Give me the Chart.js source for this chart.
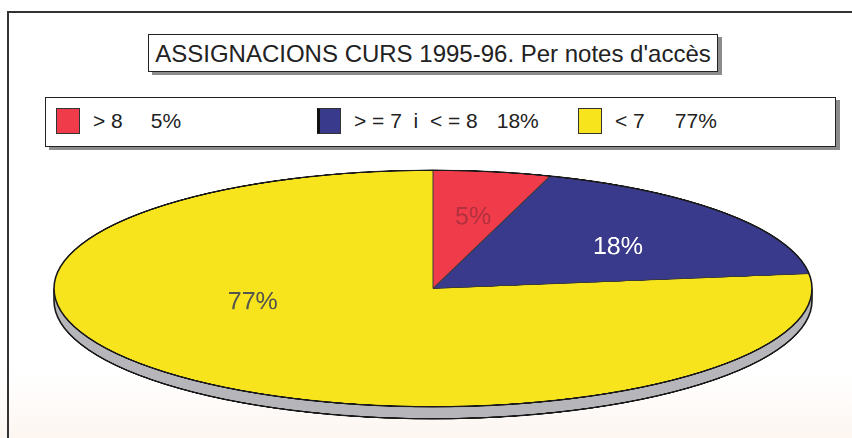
<!DOCTYPE html>
<html lang="ca">
<head>
<meta charset="UTF-8">
<title>Assignacions curs 1995-96</title>
<style>
  body {
    margin: 0;
    width: 852px;
    height: 438px;
    overflow: hidden;
    position: relative;
    background: linear-gradient(#fff 85%, #fdf6f1);
    font-family: "Liberation Sans", Arial, sans-serif;
    color: #222;
  }
  .frame {
    position: absolute;
    left: 7px; top: 11px; right: -10px; bottom: -10px;
    border-left: 2px solid #333;
    border-top: 2px solid #333;
  }
  .title {
    position: absolute;
    left: 148px; top: 34px;
    width: 568px; height: 36px;
    border: 1.5px solid #222;
    box-shadow: 4px 3px 0 #8c8c8c;
    background: #fff;
    font-size: 24px;
    line-height: 37px;
    text-align: center;
    white-space: nowrap;
  }
  .legend {
    position: absolute;
    left: 45px; top: 97px;
    width: 789px; height: 48px;
    border: 1.5px solid #222;
    box-shadow: 4px 3px 0 #8c8c8c;
    background: #fff;
    font-size: 21px;
  }
  .item {
    position: absolute;
    top: 9px;
    height: 27px;
    display: flex;
    align-items: center;
    white-space: pre;
  }
  .swatch {
    width: 24px; height: 26px;
    box-sizing: border-box;
    border: 1px solid #333;
    margin-right: 13px;
  }
  #pieWrap {
    position: absolute;
    left: 50px; top: 168.5px;
    transform-origin: 0 0;
  }
</style>
</head>
<body>
<div class="frame"></div>
<div class="title">ASSIGNACIONS CURS 1995-96. Per notes d'accès</div>
<div class="legend" id="legend"></div>
<div id="pieWrap"><canvas id="pie" width="766" height="822"></canvas></div>

<script src="https://cdn.jsdelivr.net/npm/chart.js@4.4.1/dist/chart.umd.min.js"></script>
<script>
const categories = ['> 8', '> = 7  i  < = 8', '< 7'];
const percentages = [5, 18, 77];
const valueLabels = ['5%', '18%', '77%'];

const sliceColors = ['#f03c4a', '#3a3a8c', '#f8e41c'];
const K = 0.312;     // vertical squash of the pie (ellipse)
const DEPTH = 12;    // visible thickness of the pie, screen px

// legend boxes
const legend = document.getElementById('legend');
const valueGap = [28, 19, 30];
categories.forEach((c, i) => {
    const item = document.createElement('div');
    item.className = 'item';
    item.style.left = (10 + i * 261) + 'px';
    const sw = document.createElement('div');
    sw.className = 'swatch';
    sw.style.background = sliceColors[i];
    if (i === 1) sw.style.borderLeft = '3px solid #111';
    const lab = document.createElement('span');
    lab.textContent = c;
    const val = document.createElement('span');
    val.textContent = valueLabels[i];
    val.style.marginLeft = valueGap[i] + 'px';
    item.append(sw, lab, val);
    legend.appendChild(item);
});

document.getElementById('pieWrap').style.transform = `scaleY(${K})`;

// draws the pie edge, outlines and the percent labels in screen proportions
const pie3d = {
    id: 'pie3d',
    beforeDatasetsDraw(chart) {
        const {x, y, outerRadius: r} = chart.getDatasetMeta(0).data[0];
        const ry = r * K;
        const ctx = chart.ctx;
        ctx.save();
        ctx.translate(x, y);
        ctx.scale(1, 1 / K);
        ctx.beginPath();
        ctx.moveTo(r, 0);
        ctx.lineTo(r, DEPTH);
        ctx.ellipse(0, DEPTH, r, ry, 0, 0, Math.PI);
        ctx.lineTo(-r, 0);
        ctx.ellipse(0, 0, r, ry, 0, Math.PI, 0, true);
        ctx.closePath();
        ctx.fillStyle = '#b6b6ba';
        ctx.fill();
        ctx.beginPath();
        ctx.moveTo(r, 0);
        ctx.lineTo(r, DEPTH);
        ctx.ellipse(0, DEPTH, r, ry, 0, 0, Math.PI);
        ctx.lineTo(-r, 0);
        ctx.strokeStyle = '#1a1a1a';
        ctx.lineWidth = 1.6;
        ctx.stroke();
        ctx.restore();
    },
    afterDatasetsDraw(chart, args, opts) {
        const meta = chart.getDatasetMeta(0);
        const {x, y, outerRadius: r} = meta.data[0];
        const ry = r * K;
        const ctx = chart.ctx;
        ctx.save();
        ctx.translate(x, y);
        ctx.scale(1, 1 / K);
        ctx.strokeStyle = '#3a3a3a';
        ctx.lineWidth = 1;
        meta.data.forEach(a => {
            ctx.beginPath();
            ctx.moveTo(0, 0);
            ctx.lineTo(r * Math.cos(a.startAngle), ry * Math.sin(a.startAngle));
            ctx.stroke();
        });
        ctx.beginPath();
        ctx.ellipse(0, 0, r, ry, 0, 0, Math.PI * 2);
        ctx.strokeStyle = '#1a1a1a';
        ctx.lineWidth = 1.6;
        ctx.stroke();

        ctx.font = '25px "Liberation Sans", Arial, sans-serif';
        ctx.textAlign = 'center';
        ctx.textBaseline = 'middle';
        meta.data.forEach((a, i) => {
            const ang = (a.startAngle + a.endAngle) / 2 + opts.shift[i] * Math.PI / 180;
            const f = opts.frac[i];
            ctx.fillStyle = opts.colors[i];
            ctx.fillText(valueLabels[i], f * r * Math.cos(ang), f * ry * Math.sin(ang));
        });
        ctx.restore();
    }
};

new Chart(document.getElementById('pie'), {
    type: 'pie',
    data: {
        labels: categories,
        datasets: [{
            data: percentages,
            backgroundColor: sliceColors,
            borderWidth: 0
        }]
    },
    options: {
        responsive: false,
        animation: false,
        events: [],
        layout: { padding: { left: 4, right: 4, top: 4, bottom: 60 } },
        plugins: {
            legend: { display: false },
            tooltip: { enabled: false },
            pie3d: {
                shift: [1, 4, 34.6],
                frac: [0.61, 0.6, 0.49],
                colors: ['#b3303f', '#ffffff', '#555550']
            }
        }
    },
    plugins: [pie3d]
});
</script>
</body>
</html>
